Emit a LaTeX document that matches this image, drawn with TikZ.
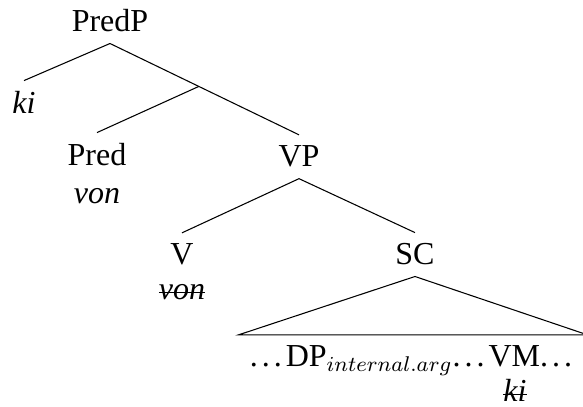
\documentclass[12pt,tikz,border=0pt]{standalone}
\usepackage{fontspec}
\setmainfont{Liberation Serif}

% struck-through trace
\newsavebox{\strikebox}
\newcommand{\struck}[1]{\sbox{\strikebox}{#1}\rlap{\rule[0.22em]{\wd\strikebox}{0.45pt}}\usebox{\strikebox}}
% spaced dots, as plain LaTeX sets them
\newcommand{\ellip}{.\kern\fontdimen3\font.\kern\fontdimen3\font.\kern\fontdimen3\font}

\tikzset{
  cat/.style={anchor=base},
  word/.style={anchor=base, font=\itshape}
}

\begin{document}
\begin{tikzpicture}[x=0.375pt, y=-0.375pt]
        \useasboundingbox (0,0) rectangle (583,407);

        % Category labels
        \node[cat] (predp) at (110,32) {PredP};
        \node[word] (ki) at (24,114) {ki};
        \node[cat] (pred) at (97,166) {Pred};
        \node[word] (predvon) at (97,204) {von};
        \node[cat] (vp) at (299,167) {VP};
        \node[cat] (v) at (182,265) {V};
        \node[word] (vvon) at (182,300) {\struck{von}};
        \node[cat] (sc) at (415,265) {SC};

        % Contents of the small clause
        \node[cat] (sclist) at (413,367) {\ellip DP$_{internal.arg}$\ellip VM\ellip};
        \node[word] (vmki) at (515,402) {\struck{ki}};

        % Connect nodes
        \draw (predp.south) -- (ki.north);
        \draw (predp.south) -- coordinate[pos=0.47] (predbar) (vp.north);
        \draw (predbar) -- (pred.north);
        \draw (vp.south) -- (v.north);
        \draw (vp.south) -- (sc.north);
        \draw (sc.south) -- (sclist.north west) -- (sclist.north east) -- cycle;
    \end{tikzpicture}
\end{document}
